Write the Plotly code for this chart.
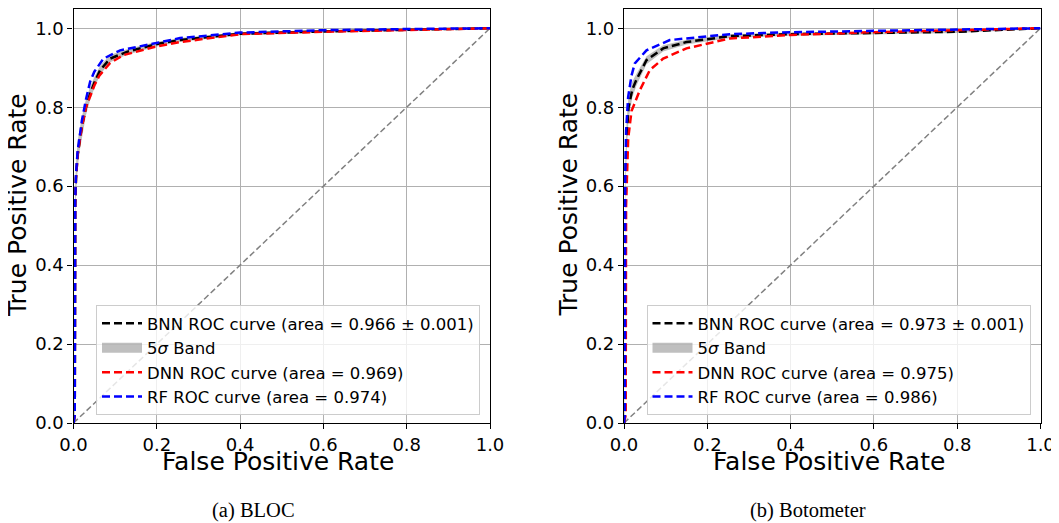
import plotly.graph_objects as go

# ---------------- data ----------------
diag = [0.0, 1.0]

# (a) BLOC
bloc_bnn_fpr = [0.0, 0.003, 0.004, 0.006, 0.010, 0.015, 0.020, 0.030, 0.040, 0.050, 0.064, 0.088, 0.128, 0.200, 0.256, 0.400, 0.600, 0.800, 1.0]
bloc_bnn_tpr = [0.0, 0.02, 0.55, 0.62, 0.68, 0.72, 0.75, 0.80, 0.835, 0.862, 0.894, 0.923, 0.940, 0.960, 0.970, 0.986, 0.992, 0.996, 1.0]
bloc_band_lo = [0.0, 0.0, 0.50, 0.58, 0.645, 0.69, 0.725, 0.78, 0.818, 0.848, 0.883, 0.914, 0.933, 0.954, 0.965, 0.982, 0.989, 0.994, 0.998]
bloc_band_hi = [0.0, 0.08, 0.60, 0.66, 0.715, 0.75, 0.775, 0.82, 0.852, 0.876, 0.905, 0.932, 0.947, 0.966, 0.975, 0.990, 0.995, 0.998, 1.0]
bloc_dnn_fpr = [0.0, 0.003, 0.004, 0.006, 0.010, 0.015, 0.020, 0.030, 0.040, 0.050, 0.062, 0.088, 0.120, 0.200, 0.256, 0.400, 0.600, 0.800, 1.0]
bloc_dnn_tpr = [0.0, 0.02, 0.55, 0.62, 0.68, 0.72, 0.75, 0.80, 0.83, 0.855, 0.880, 0.912, 0.932, 0.954, 0.965, 0.985, 0.991, 0.996, 1.0]
bloc_rf_fpr = [0.0, 0.003, 0.004, 0.006, 0.010, 0.015, 0.020, 0.030, 0.040, 0.050, 0.072, 0.112, 0.200, 0.256, 0.400, 0.600, 0.800, 1.0]
bloc_rf_tpr = [0.0, 0.02, 0.56, 0.63, 0.69, 0.73, 0.765, 0.82, 0.865, 0.89, 0.923, 0.944, 0.963, 0.975, 0.989, 0.995, 0.998, 1.0]

# (b) Botometer
boto_bnn_fpr = [0.0, 0.002, 0.003, 0.006, 0.011, 0.020, 0.030, 0.054, 0.094, 0.150, 0.254, 0.400, 0.600, 0.800, 1.0]
boto_bnn_tpr = [0.0, 0.02, 0.60, 0.72, 0.80, 0.845, 0.870, 0.919, 0.949, 0.965, 0.980, 0.985, 0.988, 0.991, 1.0]
boto_band_lo = [0.0, 0.0, 0.55, 0.68, 0.77, 0.825, 0.855, 0.909, 0.941, 0.959, 0.975, 0.981, 0.985, 0.988, 0.998]
boto_band_hi = [0.0, 0.08, 0.65, 0.76, 0.83, 0.865, 0.885, 0.929, 0.957, 0.971, 0.985, 0.989, 0.991, 0.994, 1.0]
boto_dnn_fpr = [0.0, 0.004, 0.005, 0.008, 0.010, 0.018, 0.038, 0.062, 0.094, 0.150, 0.254, 0.400, 0.600, 0.800, 1.0]
boto_dnn_tpr = [0.0, 0.02, 0.55, 0.68, 0.72, 0.79, 0.843, 0.894, 0.923, 0.949, 0.974, 0.983, 0.990, 0.995, 1.0]
boto_rf_fpr = [0.0, 0.002, 0.003, 0.005, 0.010, 0.018, 0.026, 0.054, 0.110, 0.254, 0.400, 0.600, 0.800, 1.0]
boto_rf_tpr = [0.0, 0.02, 0.62, 0.74, 0.826, 0.88, 0.911, 0.944, 0.970, 0.985, 0.990, 0.993, 0.997, 1.0]

bloc_names = ["BNN ROC curve (area = 0.966 ± 0.001)", "5<i>σ</i> Band",
              "DNN ROC curve (area = 0.969)", "RF ROC curve (area = 0.974)"]
boto_names = ["BNN ROC curve (area = 0.973 ± 0.001)", "5<i>σ</i> Band",
              "DNN ROC curve (area = 0.975)", "RF ROC curve (area = 0.986)"]
captions = ["(a) BLOC", "(b) Botometer"]
x_title = "False Positive Rate"
y_title = "True Positive Rate"
tick_vals = [0.0, 0.2, 0.4, 0.6, 0.8, 1.0]
tick_text = ["0.0", "0.2", "0.4", "0.6", "0.8", "1.0"]

# ---------------- figure ----------------
OFF = 8                      # page body margin
W, H = 1059 - OFF, 523 - OFF
FONT = "DejaVu Sans"
BAND = "rgba(128,128,128,0.5)"


def px(xp):   # page x pixel -> paper fraction
    return (xp - OFF) / W


def py(yp):   # page y pixel -> paper fraction
    return 1 - (yp - OFF) / H


fig = go.Figure()

panels = [
    dict(xa="x", ya="y", leg="legend", names=bloc_names,
         bnn=(bloc_bnn_fpr, bloc_bnn_tpr), lo=bloc_band_lo, hi=bloc_band_hi,
         dnn=(bloc_dnn_fpr, bloc_dnn_tpr), rf=(bloc_rf_fpr, bloc_rf_tpr)),
    dict(xa="x2", ya="y2", leg="legend2", names=boto_names,
         bnn=(boto_bnn_fpr, boto_bnn_tpr), lo=boto_band_lo, hi=boto_band_hi,
         dnn=(boto_dnn_fpr, boto_dnn_tpr), rf=(boto_rf_fpr, boto_rf_tpr)),
]

dash_main = "8px,4px"
for i, p in enumerate(panels):
    common = dict(xaxis=p["xa"], yaxis=p["ya"], legend=p["leg"])
    fig.add_trace(go.Scatter(x=diag, y=diag, mode="lines", showlegend=False,
                             line=dict(color="#808080", width=1.5, dash="6px,3px"), **common))
    fpr, tpr = p["bnn"]
    band_x = list(fpr) + list(fpr)[::-1]
    band_y = list(p["hi"]) + list(p["lo"])[::-1]
    fig.add_trace(go.Scatter(x=band_x, y=band_y, mode="lines", fill="toself",
                             fillcolor=BAND, showlegend=False,
                             line=dict(width=0, color=BAND), legendgroup=f"band{i}", **common))
    # legend swatch for the band
    fig.add_trace(go.Scatter(x=[None], y=[None], mode="lines", name=p["names"][1],
                             line=dict(width=10, color=BAND),
                             legendgroup=f"band{i}", legendrank=2, **common))
    fig.add_trace(go.Scatter(x=fpr, y=tpr, mode="lines", name=p["names"][0],
                             line=dict(color="black", width=2.5, dash=dash_main),
                             legendgroup=f"bnn{i}", legendrank=1, **common))
    fig.add_trace(go.Scatter(x=p["dnn"][0], y=p["dnn"][1], mode="lines", name=p["names"][2],
                             line=dict(color="red", width=2.5, dash=dash_main),
                             legendgroup=f"dnn{i}", legendrank=3, **common))
    fig.add_trace(go.Scatter(x=p["rf"][0], y=p["rf"][1], mode="lines", name=p["names"][3],
                             line=dict(color="blue", width=2.5, dash=dash_main),
                             legendgroup=f"rf{i}", legendrank=4, **common))

ydom = [py(423), py(8.5)]
xdoms = [[px(73.5), px(490)], [px(624), px(1040.5)]]
dx = 624 - 73.5

axis_common = dict(
    showline=True, linecolor="black", linewidth=1.2, mirror=True,
    showgrid=True, gridcolor="#b0b0b0", gridwidth=1,
    ticks="outside", ticklen=5, tickwidth=1.2, tickcolor="black",
    tickvals=tick_vals, ticktext=tick_text,
    tickfont=dict(family=FONT, size=18, color="black"),
    zeroline=False,
)

layout = dict(
    width=W, height=H,
    margin=dict(l=0, r=0, t=0, b=0, autoexpand=False),
    paper_bgcolor="white", plot_bgcolor="white",
    font=dict(family=FONT, color="black"),
)
for i, dom in enumerate(xdoms):
    sx = "" if i == 0 else str(i + 1)
    layout["xaxis" + sx] = dict(axis_common, domain=dom, range=[0, 1], anchor="y" + sx)
    layout["yaxis" + sx] = dict(axis_common, domain=ydom, range=[0, 1.05], anchor="x" + sx)
    layout["legend" + ("" if i == 0 else "2")] = dict(
        x=px(480 + i * dx), y=py(415), xanchor="right", yanchor="bottom",
        bgcolor="rgba(255,255,255,0.8)", bordercolor="#cccccc", borderwidth=1,
        font=dict(family=FONT, size=16.5, color="black"),
        traceorder="grouped", tracegroupgap=0, itemwidth=40,
    )

fig.update_layout(**layout)

for i in range(2):
    fig.add_annotation(text=x_title, x=px(278 + i * dx), y=py(461), xref="paper", yref="paper",
                       xanchor="center", yanchor="middle", showarrow=False,
                       font=dict(family=FONT, size=25, color="black"))
    fig.add_annotation(text=y_title, x=px(17 + i * dx), y=py(205), xref="paper", yref="paper",
                       xanchor="center", yanchor="middle", showarrow=False, textangle=-90,
                       font=dict(family=FONT, size=25, color="black"))

for cap, cx in zip(captions, [253, 808]):
    fig.add_annotation(text=cap, x=px(cx), y=py(510), xref="paper", yref="paper",
                       xanchor="center", yanchor="middle", showarrow=False,
                       font=dict(family="Liberation Serif", size=20.5, color="black"))

fig.write_html("out.html")
